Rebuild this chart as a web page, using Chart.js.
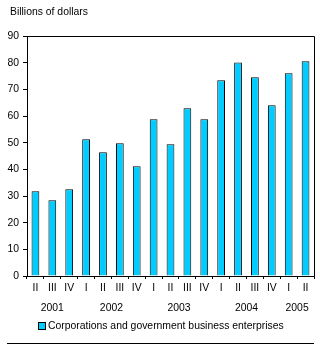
<!DOCTYPE html>
<html>
<head>
<meta charset="utf-8">
<script src="https://cdn.jsdelivr.net/npm/chart.js@4.4.1/dist/chart.umd.min.js"></script>
<style>
  html, body { margin:0; padding:0; background:#fff; }
  #wrap { position:relative; width:320px; height:349px; }
  #title { position:absolute; left:10px; top:6px; font:10.4px "Liberation Sans", Arial, sans-serif; color:#000; }
  #legend { position:absolute; left:38px; top:320px; font:10.4px "Liberation Sans", Arial, sans-serif; color:#000; white-space:nowrap; }
  #legend .box { display:inline-block; width:6px; height:6px; background:#00CCFF; border:1px solid #000; margin-right:2px; vertical-align:-1px; }
  #rule { position:absolute; left:7px; top:343px; width:307px; height:1px; background:#000; }
  canvas { position:absolute; left:0; top:0; }
</style>
</head>
<body>
<div id="wrap">
  <canvas id="c" width="320" height="349"></canvas>
  <div id="title">Billions of dollars</div>
  <div id="legend"><span class="box"></span>Corporations and government business enterprises</div>
  <div id="rule"></div>
</div>
<script>
// quarters 2001 II .. 2005 II
const quarters = ['II','III','IV','I','II','III','IV','I','II','III','IV','I','II','III','IV','I','II'];
const values = [31.8, 28.4, 32.5, 51.3, 46.4, 49.8, 41.2, 58.8, 49.4, 62.9, 58.8, 73.4, 80.1, 74.5, 64.0, 76.0, 80.5];
const years = ['2001','2002','2003','2004','2005'];
const yearFirst = [0, 3, 7, 11, 15];
const yearLast = [2, 6, 10, 14, 16];
const yTicks = [0,10,20,30,40,50,60,70,80,90];

const FONT = '"Liberation Sans", Arial, sans-serif';

const frame = {
  id:'frame',
  afterDraw(chart) {
    const {ctx, chartArea:a, scales} = chart;
    ctx.save();
    ctx.strokeStyle = '#000'; ctx.lineWidth = 1;
    ctx.beginPath();
    ctx.moveTo(a.left, a.top + 0.5); ctx.lineTo(a.right + 0.5, a.top + 0.5);
    ctx.lineTo(a.right + 0.5, a.bottom);
    ctx.stroke();
    // year labels centred under their quarters
    ctx.fillStyle = '#000'; ctx.font = '10.4px ' + FONT;
    ctx.textAlign = 'center'; ctx.textBaseline = 'middle';
    years.forEach((y, i) => {
      const x = (scales.x.getPixelForValue(yearFirst[i]) + scales.x.getPixelForValue(yearLast[i])) / 2;
      ctx.fillText(y, x, 308);
    });
    ctx.restore();
  }
};

new Chart(document.getElementById('c'), {
  type:'bar',
  data:{ labels:quarters, datasets:[{ data:values, backgroundColor:'#00CCFF', borderColor:'#000', borderWidth:1,
    barPercentage:0.46, categoryPercentage:1 }] },
  options:{
    responsive:false, animation:false, devicePixelRatio:1,
    layout:{ padding:{ top:36, right:6, left:0, bottom:0 } },
    plugins:{ legend:{display:false}, tooltip:{enabled:false} },
    scales:{
      x:{
        grid:{ drawOnChartArea:false, color:'#000', tickLength:3, offset:true },
        border:{ color:'#000', width:1 },
        ticks:{ color:'#000', font:{ family:FONT, size:10.4 }, padding:3, maxRotation:0, autoSkip:false },
        afterFit(s) { s.height = 73; }
      },
      y:{
        min:0, max:90,
        afterBuildTicks(s) { s.ticks = yTicks.map(v => ({ value:v })); },
        grid:{ drawOnChartArea:false, color:'#000', tickLength:4 },
        border:{ color:'#000', width:1 },
        ticks:{ color:'#000', font:{ family:FONT, size:10.4 }, padding:4 },
        afterFit(s) { s.width = 27; }
      }
    }
  },
  plugins:[frame]
});
</script>
</body>
</html>
